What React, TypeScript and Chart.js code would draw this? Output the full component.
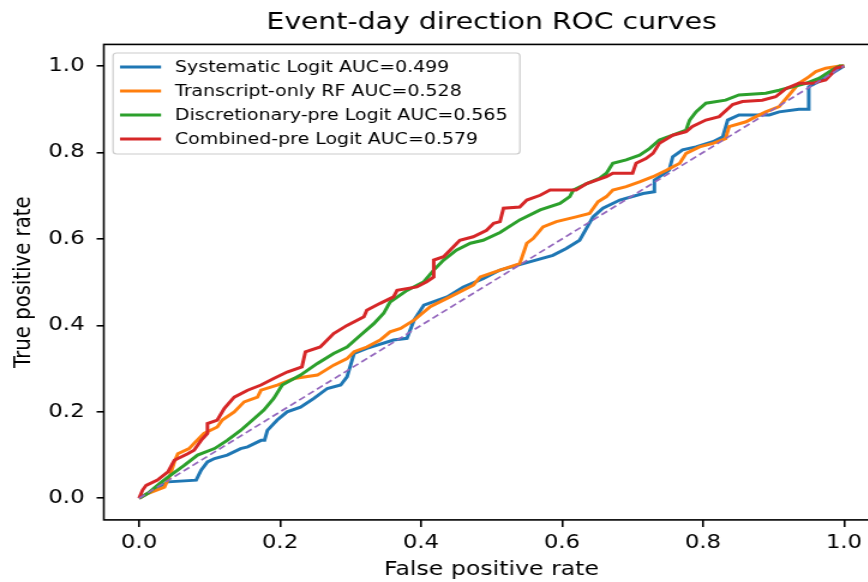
import { useEffect, useRef } from "react";
import { Chart, registerables } from "chart.js";

Chart.register(...registerables);

// ---- data -------------------------------------------------------------
const chartTitle = "Event-day direction ROC curves";
const xAxisTitle = "False positive rate";
const yAxisTitle = "True positive rate";
const tickValues = [0, 0.2, 0.4, 0.6, 0.8, 1.0];

const seriesLabels = [
  "Systematic Logit AUC=0.499",
  "Transcript-only RF AUC=0.528",
  "Discretionary-pre Logit AUC=0.565",
  "Combined-pre Logit AUC=0.579",
];
const seriesColors = ["#1f77b4", "#ff7f0e", "#2ca02c", "#d62728"];
const chanceColor = "#9467bd";

const sysFpr = [0, 0.041, 0.081, 0.088, 0.097, 0.107, 0.125, 0.144, 0.154, 0.173, 0.178, 0.182, 0.196, 0.21, 0.229, 0.248, 0.267, 0.286, 0.295, 0.305, 0.323, 0.361, 0.38, 0.39, 0.404, 0.437, 0.46, 0.488, 0.512, 0.536, 0.587, 0.606, 0.625, 0.644, 0.658, 0.682, 0.715, 0.731, 0.731, 0.752, 0.757, 0.771, 0.79, 0.814, 0.828, 0.835, 0.851, 0.894, 0.908, 0.936, 0.95, 0.95, 0.969, 0.983, 1.0];
const sysTpr = [0, 0.038, 0.042, 0.065, 0.084, 0.092, 0.1, 0.115, 0.119, 0.134, 0.134, 0.157, 0.181, 0.2, 0.211, 0.231, 0.254, 0.262, 0.281, 0.335, 0.347, 0.366, 0.37, 0.412, 0.447, 0.466, 0.489, 0.508, 0.528, 0.539, 0.562, 0.578, 0.597, 0.651, 0.671, 0.69, 0.705, 0.709, 0.736, 0.759, 0.79, 0.806, 0.813, 0.825, 0.836, 0.875, 0.887, 0.887, 0.894, 0.9, 0.9, 0.952, 0.968, 0.983, 1.0];

const rfFpr = [0, 0.012, 0.036, 0.045, 0.05, 0.055, 0.071, 0.078, 0.092, 0.111, 0.118, 0.135, 0.149, 0.168, 0.173, 0.196, 0.22, 0.253, 0.276, 0.295, 0.305, 0.323, 0.342, 0.356, 0.371, 0.39, 0.413, 0.441, 0.474, 0.484, 0.512, 0.54, 0.55, 0.559, 0.573, 0.592, 0.62, 0.639, 0.651, 0.663, 0.672, 0.691, 0.71, 0.729, 0.748, 0.767, 0.776, 0.795, 0.814, 0.832, 0.837, 0.861, 0.875, 0.889, 0.908, 0.918, 0.936, 0.95, 0.96, 0.974, 0.994, 1.0];
const rfTpr = [0, 0.011, 0.026, 0.057, 0.084, 0.103, 0.115, 0.127, 0.15, 0.165, 0.181, 0.2, 0.223, 0.234, 0.25, 0.262, 0.277, 0.285, 0.308, 0.323, 0.339, 0.35, 0.366, 0.385, 0.393, 0.412, 0.443, 0.466, 0.493, 0.512, 0.528, 0.543, 0.59, 0.601, 0.628, 0.64, 0.651, 0.659, 0.686, 0.698, 0.713, 0.721, 0.732, 0.744, 0.759, 0.775, 0.798, 0.813, 0.821, 0.832, 0.86, 0.871, 0.883, 0.894, 0.906, 0.925, 0.96, 0.975, 0.987, 0.995, 1.0, 1.0];

const discFpr = [0, 0.012, 0.029, 0.041, 0.064, 0.083, 0.107, 0.125, 0.144, 0.163, 0.177, 0.191, 0.203, 0.229, 0.253, 0.276, 0.295, 0.314, 0.333, 0.347, 0.356, 0.38, 0.404, 0.418, 0.432, 0.45, 0.47, 0.488, 0.512, 0.54, 0.569, 0.597, 0.611, 0.616, 0.635, 0.653, 0.663, 0.672, 0.691, 0.71, 0.724, 0.738, 0.757, 0.776, 0.781, 0.79, 0.804, 0.832, 0.851, 0.889, 0.908, 0.927, 0.946, 0.965, 0.983, 0.994, 1.0];
const discTpr = [0, 0.011, 0.034, 0.049, 0.076, 0.1, 0.115, 0.134, 0.157, 0.184, 0.204, 0.231, 0.262, 0.285, 0.312, 0.335, 0.35, 0.377, 0.404, 0.428, 0.454, 0.481, 0.501, 0.528, 0.551, 0.574, 0.59, 0.597, 0.615, 0.644, 0.667, 0.682, 0.698, 0.713, 0.728, 0.74, 0.752, 0.775, 0.783, 0.794, 0.809, 0.829, 0.84, 0.852, 0.875, 0.894, 0.914, 0.921, 0.933, 0.937, 0.944, 0.952, 0.96, 0.972, 0.991, 1.0, 1.0];

const combFpr = [0, 0.005, 0.01, 0.026, 0.041, 0.05, 0.069, 0.078, 0.088, 0.097, 0.097, 0.111, 0.121, 0.135, 0.154, 0.173, 0.191, 0.21, 0.231, 0.236, 0.257, 0.276, 0.295, 0.319, 0.323, 0.342, 0.361, 0.366, 0.394, 0.408, 0.418, 0.418, 0.432, 0.446, 0.455, 0.474, 0.493, 0.503, 0.512, 0.517, 0.54, 0.55, 0.569, 0.583, 0.62, 0.635, 0.663, 0.672, 0.7, 0.705, 0.719, 0.729, 0.738, 0.757, 0.776, 0.785, 0.804, 0.823, 0.842, 0.856, 0.884, 0.903, 0.918, 0.936, 0.955, 0.974, 0.983, 0.988, 1.0];
const combTpr = [0, 0.019, 0.03, 0.042, 0.061, 0.088, 0.103, 0.111, 0.134, 0.15, 0.173, 0.181, 0.208, 0.234, 0.25, 0.262, 0.277, 0.292, 0.304, 0.339, 0.35, 0.381, 0.4, 0.42, 0.435, 0.451, 0.466, 0.481, 0.489, 0.501, 0.512, 0.551, 0.559, 0.582, 0.597, 0.605, 0.62, 0.636, 0.64, 0.671, 0.674, 0.69, 0.701, 0.713, 0.713, 0.728, 0.744, 0.752, 0.752, 0.775, 0.786, 0.798, 0.821, 0.84, 0.848, 0.86, 0.875, 0.883, 0.911, 0.918, 0.921, 0.929, 0.948, 0.96, 0.96, 0.968, 0.983, 0.995, 1.0];

const chanceFpr = [0, 1];
const chanceTpr = [0, 1];

// ---- component --------------------------------------------------------
const FONT = "'DejaVu Sans', sans-serif";
const CANVAS_W = 750; // drawn width, shown 1.2x wider (reference is stretched horizontally)
const CANVAS_H = 582;

function pts(xs: number[], ys: number[]) {
  return xs.map((x, i) => ({ x, y: ys[i] }));
}

export default function App() {
  const ref = useRef<HTMLCanvasElement>(null);

  useEffect(() => {
    const canvas = ref.current;
    if (!canvas) return;

    const frame = {
      id: "frame",
      afterDatasetsDraw(chart: any) {
        const { ctx, chartArea: a } = chart;
        ctx.save();
        ctx.strokeStyle = "#000";
        ctx.lineWidth = 1.6;
        ctx.strokeRect(a.left, a.top, a.right - a.left, a.bottom - a.top);
        ctx.restore();
      },
    };

    const legendBox = {
      id: "legendBox",
      afterDraw(chart: any) {
        const { ctx } = chart;
        const ds = chart.data.datasets.slice(0, seriesLabels.length);
        const x0 = 94.2, y0 = 53, w = 339, h = 101;
        ctx.save();
        ctx.beginPath();
        (ctx as any).roundRect(x0, y0, w, h, 3);
        ctx.fillStyle = "rgba(255,255,255,0.8)";
        ctx.fill();
        ctx.strokeStyle = "#cccccc";
        ctx.lineWidth = 1.2;
        ctx.stroke();
        ctx.font = `15.8px ${FONT}`;
        ctx.textBaseline = "middle";
        ctx.textAlign = "left";
        ds.forEach((d: any, i: number) => {
          const y = 67 + i * 24;
          ctx.beginPath();
          ctx.moveTo(100, y);
          ctx.lineTo(134.2, y);
          ctx.strokeStyle = d.borderColor;
          ctx.lineWidth = 3;
          ctx.stroke();
          ctx.fillStyle = "#000";
          ctx.fillText(d.label, 145.8, y + 0.5);
        });
        ctx.restore();
      },
    };

    const series = [
      [sysFpr, sysTpr],
      [rfFpr, rfTpr],
      [discFpr, discTpr],
      [combFpr, combTpr],
    ];

    const datasets: any[] = series.map(([xs, ys], i) => ({
      label: seriesLabels[i],
      data: pts(xs, ys),
      borderColor: seriesColors[i],
      backgroundColor: seriesColors[i],
      borderWidth: 3,
      showLine: true,
      pointRadius: 0,
      tension: 0,
      order: seriesLabels.length - i,
    }));
    datasets.push({
      label: "chance",
      data: pts(chanceFpr, chanceTpr),
      borderColor: chanceColor,
      backgroundColor: chanceColor,
      borderWidth: 1.7,
      borderDash: [6, 3.2],
      showLine: true,
      pointRadius: 0,
      order: 0,
    });

    const tickFont = { family: FONT, size: 19, weight: "normal" as const };
    const labelFont = { family: FONT, size: 19.7, weight: "normal" as const, lineHeight: 1.2 };

    const chart = new Chart(canvas, {
      type: "scatter",
      data: { datasets },
      options: {
        animation: false,
        responsive: false,
        devicePixelRatio: 1,
        layout: { padding: { left: 0, right: 17.3, top: 0, bottom: 0 } },
        plugins: {
          legend: { display: false },
          tooltip: { enabled: false },
          title: {
            display: true,
            text: chartTitle,
            fullSize: false,
            color: "#000",
            font: { family: FONT, size: 23.6, weight: "normal", lineHeight: 1.2 },
            padding: { top: 9, bottom: 7.1 },
          },
        },
        scales: {
          x: {
            type: "linear",
            min: -0.05,
            max: 1.05,
            afterFit(s: any) {
              s.height = 62.1;
            },
            afterBuildTicks(s: any) {
              s.ticks = tickValues.map((v) => ({ value: v }));
            },
            ticks: {
              color: "#000",
              font: tickFont,
              padding: 5,
              maxRotation: 0,
              autoSkip: false,
              callback: (v: any) => Number(v).toFixed(1),
            },
            grid: {
              drawOnChartArea: false,
              drawTicks: true,
              tickLength: 7,
              tickColor: "#000",
              lineWidth: 1.6,
            },
            border: { display: false },
            title: {
              display: true,
              text: xAxisTitle,
              color: "#000",
              font: labelFont,
              padding: { top: 0, bottom: 0.5 },
            },
          },
          y: {
            type: "linear",
            min: -0.05,
            max: 1.05,
            afterFit(s: any) {
              s.width = 86.5;
            },
            afterBuildTicks(s: any) {
              s.ticks = tickValues.map((v) => ({ value: v }));
            },
            ticks: {
              color: "#000",
              font: tickFont,
              padding: 10,
              autoSkip: false,
              callback: (v: any) => Number(v).toFixed(1),
            },
            grid: {
              drawOnChartArea: false,
              drawTicks: true,
              tickLength: 6,
              tickColor: "#000",
              lineWidth: 1.6,
            },
            border: { display: false },
            title: {
              display: true,
              text: yAxisTitle,
              color: "#000",
              font: labelFont,
              padding: { top: 8, bottom: 0 },
            },
          },
        },
      },
      plugins: [frame, legendBox],
    });

    return () => chart.destroy();
  }, []);

  return (
    <div
      style={{
        position: "fixed",
        left: 0,
        top: 0,
        width: 868,
        height: 582,
        overflow: "hidden",
        background: "#fff",
      }}
    >
      <canvas
        ref={ref}
        width={CANVAS_W}
        height={CANVAS_H}
        style={{ width: "900px", height: "582px", display: "block" }}
      />
    </div>
  );
}
